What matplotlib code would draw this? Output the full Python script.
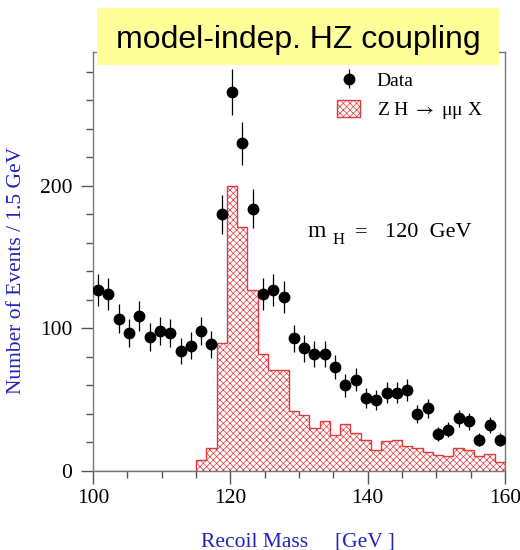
import numpy as np
import matplotlib.pyplot as plt
from matplotlib.patches import Patch, Rectangle

# recoil mass bins, 1.5 GeV wide, 100 - 160 GeV
edges = np.arange(100, 160.01, 1.5)
centers = 0.5 * (edges[:-1] + edges[1:])

# data points (events per bin)
data = np.array([127, 124, 107, 97, 109, 94, 98, 97, 84, 88,
                 98, 89, 180, 266, 230, 184, 124, 127, 122, 93,
                 86, 82, 82, 73, 60, 64, 51, 50, 55, 55,
                 57, 40, 44, 26, 29, 37, 35, 22, 32, 22])

# ZH -> mumu X signal histogram
signal = np.array([0, 0, 0, 0, 0, 0, 0, 0, 0, 0,
                   8, 16, 90, 200, 171, 127, 82, 71, 71, 42,
                   39, 30, 35, 25, 33, 27, 22, 15, 21, 22,
                   17.5, 16, 13.6, 11, 10.5, 16.4, 15, 10.5, 11.7, 6])

red = '#e03a3e'
blue = '#2222bb'

plt.rcParams['font.family'] = ['Liberation Serif', 'DejaVu Serif']
plt.rcParams['mathtext.fontset'] = 'stix'
plt.rcParams['hatch.linewidth'] = 0.5

fig = plt.figure(figsize=(5.2, 5.5), dpi=100)
ax = fig.add_axes([93/520, 1 - 471/550, 412/520, 419/550])

ax.stairs(signal, edges, fill=True, facecolor='white', edgecolor=red,
          hatch='xxxxx', linewidth=1.0, zorder=1)
eb = ax.errorbar(centers, data, yerr=np.sqrt(data), fmt='o', color='black',
                 ms=7.5, elinewidth=0.9, capsize=0, zorder=3)

ax.set_xlim(100, 160)
ax.set_ylim(0, 294)
ax.set_xticks([100, 120, 140, 160])
ax.set_xticks(np.arange(100, 161, 5), minor=True)
ax.set_yticks([0, 100, 200])
ax.set_yticks(np.arange(0, 295, 20), minor=True)
ax.tick_params(which='major', direction='out', length=9, width=1,
               labelsize=15.5, color='#555555', pad=4)
ax.tick_params(which='minor', direction='out', length=5, width=1, color='#555555')
ax.tick_params(axis='y', which='major', pad=6)
for s in ax.spines.values():
    s.set_color('#777777')
    s.set_linewidth(1)

sig_handle = Patch(facecolor='white', edgecolor=red, hatch='xxxxx', linewidth=1)
ax.legend([eb, sig_handle], ['Data', 'Z H $\\rightarrow$ \u03bc\u03bc X'],
          loc='upper left', bbox_to_anchor=(0.592, 0.955), frameon=False,
          fontsize=14, handlelength=1.2, handleheight=1.0, handletextpad=0.85,
          labelspacing=0.5, borderpad=0, borderaxespad=0)

ax.text(131.2, 164, 'm', fontsize=17)
ax.text(134.95, 159, 'H', fontsize=12)
ax.text(138.15, 164, '=', fontsize=16)
ax.text(142.5, 164, '120  GeV', fontsize=16)

fig.text(17/520, 1 - 270/550, 'Number of Events / 1.5 GeV', rotation=90,
         ha='center', va='center', color=blue, fontsize=15.5)
fig.text(298/520, 1 - 542/550, 'Recoil Mass     [GeV ]', ha='center',
         va='center', color=blue, fontsize=15.5)

# yellow title box
fig.patches.append(Rectangle((97/520, 1 - 65/550), 402/520, 57/550,
                             transform=fig.transFigure, facecolor='#ffff99',
                             edgecolor='none', zorder=5))
fig.text(298/520, 1 - 48/550, 'model-indep. HZ coupling', ha='center',
         va='baseline', fontsize=23, family=['Liberation Sans', 'DejaVu Sans'],
         zorder=6)

fig.savefig('out.png', dpi=100)
